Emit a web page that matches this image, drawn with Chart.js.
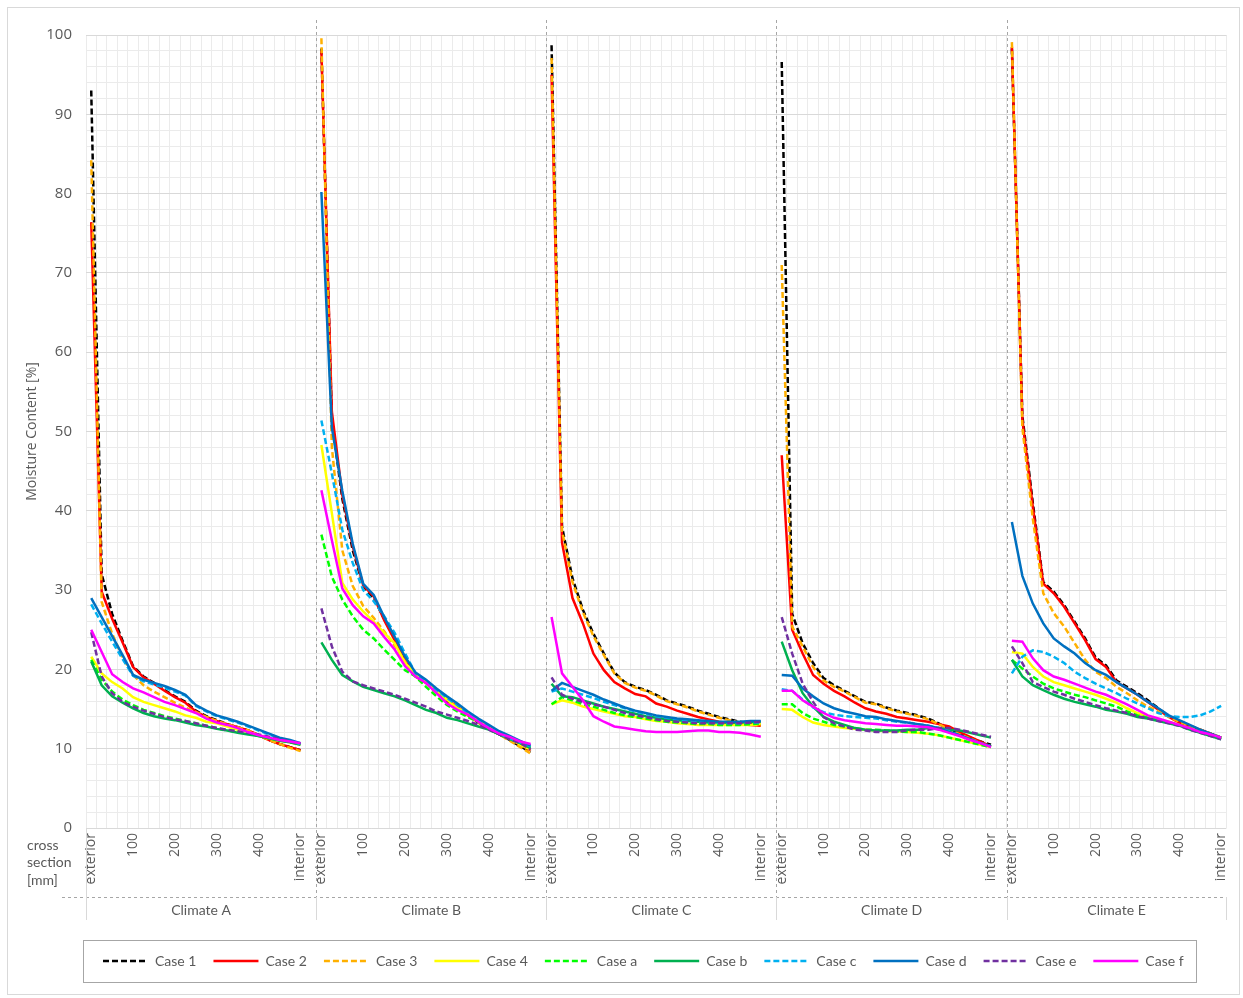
<!DOCTYPE html>
<html>
<head>
<meta charset="utf-8">
<title>Moisture Content</title>
<script src="https://cdn.jsdelivr.net/npm/chart.js@4.4.1/dist/chart.umd.min.js"></script>
<style>
    html, body { margin: 0; padding: 0; background: #ffffff; }
    #wrap { width: 1243px; height: 998px; }
</style>
</head>
<body>
<div id="wrap"><canvas id="moistureChart"></canvas></div>
<script>
// Climate panels and depth positions (25 mm steps, exterior -> interior)
const climates = ['Climate A', 'Climate B', 'Climate C', 'Climate D', 'Climate E'];
const depthTicks = ['exterior', '', '', '', '100', '', '', '', '200', '', '', '', '300', '', '', '', '400', '', '', '', 'interior'];

// Moisture content [%], one row per climate A..E
const case1 = [
    [93.0, 32.0, 27.0, 23.6, 20.4, 19.1, 18.3, 17.4, 16.6, 15.9, 14.8, 14.1, 13.6, 13.1, 12.7, 12.3, 11.7, 11.1, 10.6, 10.2, 9.8],
    [98.3, 51.5, 41.5, 35.0, 30.5, 29.0, 26.4, 23.9, 21.4, 19.3, 18.3, 17.1, 16.0, 15.1, 14.2, 13.3, 12.5, 11.8, 11.1, 10.3, 9.6],
    [98.7, 38.0, 31.5, 27.5, 24.5, 22.0, 19.6, 18.4, 17.8, 17.4, 16.8, 16.1, 15.7, 15.3, 14.8, 14.4, 14.0, 13.7, 13.4, 13.2, 13.0],
    [96.6, 27.0, 23.3, 20.8, 18.9, 18.0, 17.3, 16.6, 15.9, 15.7, 15.2, 14.8, 14.5, 14.2, 13.8, 13.2, 12.4, 11.9, 11.4, 10.9, 10.5],
    [98.3, 52.0, 41.0, 31.0, 29.8, 28.1, 26.0, 23.9, 21.5, 20.5, 18.6, 17.8, 17.0, 16.1, 15.1, 14.1, 13.4, 12.9, 12.4, 11.9, 11.4]
];
const case2 = [
    [76.4, 29.8, 26.4, 23.4, 20.3, 19.0, 18.2, 17.3, 16.5, 15.8, 14.7, 14.0, 13.5, 13.1, 12.7, 12.3, 11.7, 11.1, 10.6, 10.2, 9.8],
    [98.0, 52.5, 42.0, 35.5, 30.6, 29.2, 26.2, 23.7, 21.2, 19.1, 18.3, 17.2, 16.2, 15.3, 14.3, 13.4, 12.6, 11.9, 11.2, 10.5, 9.8],
    [95.0, 36.0, 29.0, 25.8, 22.0, 19.9, 18.4, 17.6, 16.9, 16.6, 15.7, 15.3, 14.8, 14.4, 14.0, 13.7, 13.4, 13.2, 13.1, 13.0, 12.9],
    [47.0, 25.0, 22.0, 19.3, 18.2, 17.3, 16.6, 15.8, 15.1, 14.7, 14.4, 14.0, 13.8, 13.6, 13.4, 13.1, 12.8, 12.1, 11.5, 10.9, 10.3],
    [98.5, 51.5, 40.5, 30.8, 29.6, 27.9, 25.8, 23.7, 21.3, 20.3, 18.4, 17.6, 16.8, 15.9, 14.9, 14.0, 13.3, 12.8, 12.4, 11.9, 11.4]
];
const case3 = [
    [84.2, 28.5, 24.5, 21.5, 19.3, 18.0, 17.2, 16.5, 15.8, 15.2, 14.6, 14.0, 13.5, 13.1, 12.7, 12.3, 11.7, 11.1, 10.6, 10.1, 9.7],
    [99.6, 48.0, 35.0, 30.5, 28.0, 26.5, 24.8, 23.0, 21.0, 19.5, 18.3, 17.1, 16.0, 15.0, 14.2, 13.3, 12.5, 11.8, 11.0, 10.2, 9.4],
    [97.1, 37.5, 31.0, 27.2, 24.2, 21.8, 19.5, 18.3, 17.7, 17.3, 16.7, 16.0, 15.6, 15.2, 14.7, 14.3, 13.9, 13.6, 13.3, 13.1, 12.9],
    [71.0, 25.4, 22.9, 20.3, 18.6, 17.8, 17.2, 16.5, 15.8, 15.6, 15.1, 14.7, 14.4, 14.1, 13.7, 13.1, 12.4, 11.8, 11.3, 10.7, 10.3],
    [99.1, 50.5, 39.0, 29.6, 27.1, 25.4, 23.3, 21.2, 19.7, 18.9, 17.8, 17.0, 16.1, 15.3, 14.7, 14.0, 13.4, 12.9, 12.4, 11.9, 11.4]
];
const case4 = [
    [21.6, 19.5, 18.4, 17.6, 16.5, 15.9, 15.5, 15.1, 14.7, 14.2, 13.9, 13.4, 13.2, 12.8, 12.4, 12.1, 11.7, 11.3, 11.0, 10.8, 10.5],
    [48.3, 39.7, 30.9, 28.8, 27.3, 26.0, 24.6, 23.3, 20.8, 19.5, 18.5, 17.4, 16.2, 15.1, 14.5, 13.6, 12.8, 11.9, 11.3, 10.5, 9.9],
    [15.6, 16.1, 15.8, 15.3, 15.0, 14.7, 14.4, 14.1, 14.0, 13.7, 13.5, 13.4, 13.2, 13.1, 13.0, 13.0, 13.0, 13.0, 13.0, 13.0, 13.1],
    [15.0, 14.9, 14.0, 13.3, 13.0, 12.8, 12.6, 12.5, 12.4, 12.3, 12.2, 12.2, 12.1, 12.0, 11.9, 11.7, 11.4, 11.1, 10.8, 10.5, 10.2],
    [22.2, 22.0, 20.3, 19.1, 18.4, 18.0, 17.6, 17.2, 16.8, 16.3, 15.8, 15.1, 14.5, 14.0, 13.7, 13.4, 13.0, 12.6, 12.1, 11.8, 11.4]
];
const caseA = [
    [21.2, 18.7, 17.2, 16.2, 15.5, 14.9, 14.5, 14.1, 13.8, 13.5, 13.2, 12.9, 12.6, 12.3, 12.1, 11.9, 11.6, 11.3, 11.1, 10.8, 10.6],
    [37.0, 31.7, 28.8, 26.7, 25.0, 23.9, 22.5, 21.2, 19.9, 19.1, 17.8, 16.6, 15.5, 14.7, 14.0, 13.4, 12.6, 11.9, 11.3, 10.7, 10.1],
    [15.6, 16.5, 16.1, 15.6, 15.3, 14.9, 14.5, 14.2, 14.0, 13.8, 13.6, 13.4, 13.3, 13.2, 13.1, 13.1, 13.0, 13.0, 13.0, 13.1, 13.2],
    [15.6, 15.6, 14.5, 13.8, 13.4, 13.0, 12.8, 12.6, 12.4, 12.4, 12.3, 12.2, 12.1, 12.1, 11.9, 11.7, 11.4, 11.1, 10.8, 10.5, 10.2],
    [21.2, 20.1, 19.1, 18.2, 17.6, 17.2, 16.8, 16.5, 16.1, 15.7, 15.3, 14.7, 14.2, 13.9, 13.6, 13.3, 13.0, 12.6, 12.1, 11.7, 11.3]
];
const caseB = [
    [21.0, 18.0, 16.6, 15.8, 15.1, 14.5, 14.1, 13.8, 13.6, 13.3, 13.0, 12.8, 12.5, 12.3, 12.0, 11.8, 11.6, 11.3, 11.0, 10.8, 10.5],
    [23.4, 21.2, 19.3, 18.5, 17.8, 17.4, 17.0, 16.6, 16.1, 15.5, 14.9, 14.5, 13.9, 13.6, 13.2, 12.8, 12.4, 11.8, 11.2, 10.7, 10.1],
    [18.2, 16.6, 16.5, 16.1, 15.7, 15.3, 15.0, 14.7, 14.4, 14.1, 13.9, 13.7, 13.6, 13.5, 13.4, 13.3, 13.3, 13.3, 13.3, 13.4, 13.4],
    [23.5, 19.9, 17.0, 15.3, 14.0, 13.4, 13.0, 12.6, 12.4, 12.3, 12.3, 12.3, 12.4, 12.4, 12.6, 12.6, 12.4, 12.3, 12.0, 11.7, 11.4],
    [21.2, 19.1, 18.0, 17.4, 16.8, 16.3, 15.9, 15.6, 15.3, 14.9, 14.7, 14.4, 14.0, 13.8, 13.5, 13.2, 12.9, 12.4, 12.0, 11.6, 11.2]
];
const caseC = [
    [28.2, 25.8, 23.5, 21.3, 19.2, 18.5, 18.1, 17.7, 17.2, 16.7, 15.4, 14.7, 14.1, 13.7, 13.3, 12.8, 12.3, 11.8, 11.3, 11.0, 10.6],
    [51.4, 44.7, 37.6, 33.4, 30.0, 28.6, 26.7, 24.6, 22.0, 19.5, 18.3, 17.4, 16.4, 15.5, 14.5, 13.6, 12.8, 11.9, 11.3, 10.8, 10.3],
    [17.2, 17.6, 17.2, 16.8, 16.4, 15.9, 15.5, 15.1, 14.7, 14.4, 14.1, 13.9, 13.7, 13.5, 13.4, 13.3, 13.2, 13.2, 13.2, 13.3, 13.3],
    [17.5, 17.3, 16.2, 15.2, 14.6, 14.3, 14.1, 14.0, 13.9, 13.8, 13.6, 13.4, 13.3, 13.1, 12.9, 12.6, 12.2, 11.7, 11.2, 10.7, 10.3],
    [19.5, 21.6, 22.4, 22.2, 21.6, 20.8, 19.7, 18.9, 18.2, 17.6, 17.0, 16.3, 15.7, 15.1, 14.5, 14.1, 14.0, 14.0, 14.2, 14.7, 15.4]
];
const caseD = [
    [29.0, 26.6, 24.2, 21.8, 19.3, 18.7, 18.3, 17.9, 17.4, 16.8, 15.5, 14.8, 14.2, 13.8, 13.4, 12.9, 12.4, 11.9, 11.4, 11.1, 10.7],
    [80.2, 50.5, 42.5, 35.8, 30.8, 29.4, 26.6, 24.1, 21.6, 19.6, 18.7, 17.6, 16.6, 15.7, 14.7, 13.8, 13.0, 12.2, 11.6, 11.0, 10.4],
    [17.3, 18.3, 17.8, 17.3, 16.8, 16.2, 15.7, 15.2, 14.8, 14.5, 14.2, 14.0, 13.8, 13.7, 13.6, 13.5, 13.4, 13.4, 13.4, 13.5, 13.5],
    [19.3, 19.2, 17.6, 16.6, 15.7, 15.1, 14.7, 14.4, 14.1, 14.0, 13.7, 13.5, 13.3, 13.1, 12.9, 12.6, 12.1, 11.7, 11.2, 10.7, 10.3],
    [38.6, 31.8, 28.3, 25.8, 23.9, 22.9, 22.0, 20.8, 19.9, 19.3, 18.4, 17.6, 16.8, 15.9, 15.1, 14.2, 13.6, 13.0, 12.4, 11.9, 11.4]
];
const caseE = [
    [24.7, 19.1, 17.0, 15.9, 15.3, 14.8, 14.4, 14.0, 13.7, 13.5, 13.2, 12.9, 12.6, 12.4, 12.2, 12.0, 11.8, 11.5, 11.2, 10.9, 10.7],
    [27.7, 22.9, 19.7, 18.5, 18.0, 17.6, 17.2, 16.8, 16.3, 15.8, 15.3, 14.7, 14.3, 13.9, 13.5, 13.0, 12.4, 11.8, 11.2, 10.7, 9.9],
    [19.0, 16.8, 16.3, 15.9, 15.6, 15.3, 14.9, 14.5, 14.2, 14.0, 13.7, 13.5, 13.4, 13.3, 13.2, 13.2, 13.2, 13.2, 13.2, 13.3, 13.4],
    [26.6, 22.0, 18.2, 15.9, 14.0, 13.2, 12.8, 12.4, 12.3, 12.1, 12.1, 12.1, 12.3, 12.4, 12.4, 12.6, 12.6, 12.4, 12.1, 11.8, 11.5],
    [22.9, 20.8, 18.4, 17.8, 17.2, 16.8, 16.3, 15.9, 15.5, 15.1, 14.8, 14.5, 14.1, 13.8, 13.5, 13.2, 12.9, 12.4, 12.0, 11.6, 11.2]
];
const caseF = [
    [25.0, 22.2, 19.4, 18.4, 17.6, 17.1, 16.5, 15.9, 15.5, 15.0, 14.5, 13.8, 13.3, 13.0, 12.6, 12.1, 11.7, 11.4, 11.1, 10.9, 10.7],
    [42.6, 36.3, 30.2, 28.1, 26.7, 25.8, 24.1, 22.5, 20.4, 19.1, 18.3, 17.0, 15.7, 14.9, 14.3, 13.4, 12.6, 11.9, 11.5, 10.9, 10.6],
    [26.6, 19.5, 17.8, 16.1, 14.1, 13.4, 12.8, 12.6, 12.4, 12.2, 12.1, 12.1, 12.1, 12.2, 12.3, 12.3, 12.1, 12.1, 12.0, 11.8, 11.5],
    [17.3, 17.3, 16.1, 15.3, 14.5, 13.9, 13.6, 13.4, 13.2, 13.1, 13.0, 12.9, 12.9, 12.8, 12.7, 12.4, 12.0, 11.6, 11.1, 10.7, 10.2],
    [23.6, 23.5, 21.4, 19.9, 19.1, 18.7, 18.2, 17.7, 17.2, 16.8, 16.2, 15.6, 14.9, 14.2, 13.8, 13.4, 13.0, 12.6, 12.1, 11.8, 11.4]
];

// name, values, colour, dashed
const seriesList = [
    ['Case 1', case1, '#000000', true],
    ['Case 2', case2, '#ff0000', false],
    ['Case 3', case3, '#ffb000', true],
    ['Case 4', case4, '#ffff00', false],
    ['Case a', caseA, '#00ff00', true],
    ['Case b', caseB, '#00b050', false],
    ['Case c', caseC, '#00b0f0', true],
    ['Case d', caseD, '#0070c0', false],
    ['Case e', caseE, '#7030a0', true],
    ['Case f', caseF, '#ff00ff', false]
];

const TEXT = '#595959';
const DASH = [6, 3];
const PANEL = depthTicks.length + 1;   // one empty slot between climates

// Put the climates side by side with an empty category between them
function joinClimates(parts, gap) {
    const out = [];
    parts.forEach((p, k) => {
        out.push(...p);
        if (k < parts.length - 1) out.push(gap);
    });
    return out;
}

const labels = joinClimates(climates.map(() => depthTicks), '');

const datasets = seriesList.map(([name, values, color, dashed], i) => ({
    label: name,
    data: joinClimates(values, null),
    borderColor: color,
    backgroundColor: color,
    borderWidth: 2.5,
    borderDash: dashed ? DASH : [],
    pointRadius: 0,
    tension: 0,
    spanGaps: false,
    order: seriesList.length - i   // later cases drawn on top
}));

// Frame, panel separators, climate names and the legend box
const panelDecor = {
    id: 'panelDecor',
    beforeDraw(chart) {
        const { ctx, width, height } = chart;
        ctx.save();
        ctx.fillStyle = '#ffffff';
        ctx.fillRect(0, 0, width, height);
        ctx.strokeStyle = '#d9d9d9';
        ctx.lineWidth = 1;
        ctx.strokeRect(7.5, 7.5, width - 11, height - 11);
        ctx.restore();
    },
    afterDraw(chart) {
        const { ctx, chartArea } = chart;
        const xs = chart.scales.x;
        const bottom = xs.bottom;
        const lineY = bottom - 40;
        const bounds = [chartArea.left];
        for (let k = 1; k < climates.length; k++) {
            bounds.push((xs.getPixelForValue(k * PANEL - 1) + xs.getPixelForValue(k * PANEL)) / 2);
        }
        bounds.push(chartArea.right);

        ctx.save();
        // dashed separators between climates
        ctx.strokeStyle = '#a6a6a6';
        ctx.lineWidth = 1;
        ctx.setLineDash([3, 3]);
        for (let k = 1; k < climates.length; k++) {
            const x = Math.round(bounds[k]) + 0.5;
            ctx.beginPath();
            ctx.moveTo(x, chartArea.top - 15);
            ctx.lineTo(x, lineY);
            ctx.stroke();
        }
        ctx.beginPath();
        ctx.moveTo(62, lineY + 0.5);
        ctx.lineTo(chartArea.right, lineY + 0.5);
        ctx.stroke();

        // solid ticks of the climate row
        ctx.setLineDash([]);
        ctx.strokeStyle = '#d9d9d9';
        bounds.forEach((b, k) => {
            const x = Math.round(b) + 0.5;
            ctx.beginPath();
            ctx.moveTo(x, k === 0 ? chartArea.bottom : lineY);
            ctx.lineTo(x, bottom - 17);
            ctx.stroke();
        });

        ctx.fillStyle = TEXT;
        ctx.font = '14px Lato, "Liberation Sans", sans-serif';
        ctx.textAlign = 'center';
        ctx.textBaseline = 'middle';
        climates.forEach((c, k) => {
            ctx.fillText(c, (bounds[k] + bounds[k + 1]) / 2, bottom - 27);
        });

        ctx.textAlign = 'left';
        ['cross', 'section', '[mm]'].forEach((t, j) => {
            ctx.fillText(t, 27, chartArea.bottom + 17 + j * 17.5);
        });

        // border round the legend
        const boxes = chart.legend.legendHitBoxes;
        if (boxes.length) {
            const left = Math.min(...boxes.map(b => b.left)) - 20;
            const right = Math.max(...boxes.map(b => b.left + b.width)) + 12;
            const mid = boxes[0].top + boxes[0].height / 2;
            ctx.strokeStyle = '#a6a6a6';
            ctx.strokeRect(Math.round(left) + 0.5, Math.round(mid - 21) + 0.5, Math.round(right - left), 42);
        }
        ctx.restore();
    }
};

Chart.defaults.font.family = "'Open Sans', sans-serif";
Chart.defaults.color = TEXT;

const defaultLabels = Chart.defaults.plugins.legend.labels.generateLabels;

new Chart(document.getElementById('moistureChart'), {
    type: 'line',
    data: { labels: labels, datasets: datasets },
    plugins: [panelDecor],
    options: {
        responsive: true,
        maintainAspectRatio: false,
        animation: false,
        layout: { padding: { top: 35, right: 15, bottom: 20, left: 8 } },
        plugins: {
            tooltip: { enabled: false },
            legend: {
                position: 'bottom',
                align: 'start',
                fullSize: false,
                labels: {
                    usePointStyle: true,
                    pointStyle: 'line',
                    pointStyleWidth: 45,
                    padding: 17,
                    color: TEXT,
                    font: { family: 'Lato, "Liberation Sans", sans-serif', size: 14 },
                    sort: (a, b) => a.datasetIndex - b.datasetIndex,
                    // point-style items lose the line dash, so copy it from the dataset
                    generateLabels: (chart) => defaultLabels(chart).map((item) => {
                        const ds = chart.data.datasets[item.datasetIndex];
                        item.lineDash = ds.borderDash;
                        item.lineWidth = ds.borderWidth;
                        item.strokeStyle = ds.borderColor;
                        return item;
                    })
                }
            }
        },
        scales: {
            x: {
                type: 'category',
                offset: true,
                border: { display: false },
                grid: { color: '#ebebeb', offset: true, drawTicks: false },
                ticks: {
                    autoSkip: false,
                    minRotation: 90,
                    maxRotation: 90,
                    padding: 5,
                    color: TEXT,
                    font: { size: 14 }
                },
                afterFit: (scale) => { scale.height = 109; }
            },
            y: {
                min: 0,
                max: 100,
                border: { display: false },
                grid: {
                    drawTicks: false,
                    color: (c) => (c.tick.value % 10 === 0 ? '#d9d9d9' : '#ebebeb')
                },
                ticks: {
                    stepSize: 2,
                    autoSkip: false,
                    padding: 14,
                    color: TEXT,
                    font: { size: 15 },
                    callback: (v) => (v % 10 === 0 ? v : '')
                },
                title: {
                    display: true,
                    text: 'Moisture Content [%]',
                    color: TEXT,
                    font: { size: 14 },
                    padding: { top: 16, bottom: 0 }
                },
                afterFit: (scale) => { scale.width = 78; }
            }
        }
    }
});
</script>
</body>
</html>
